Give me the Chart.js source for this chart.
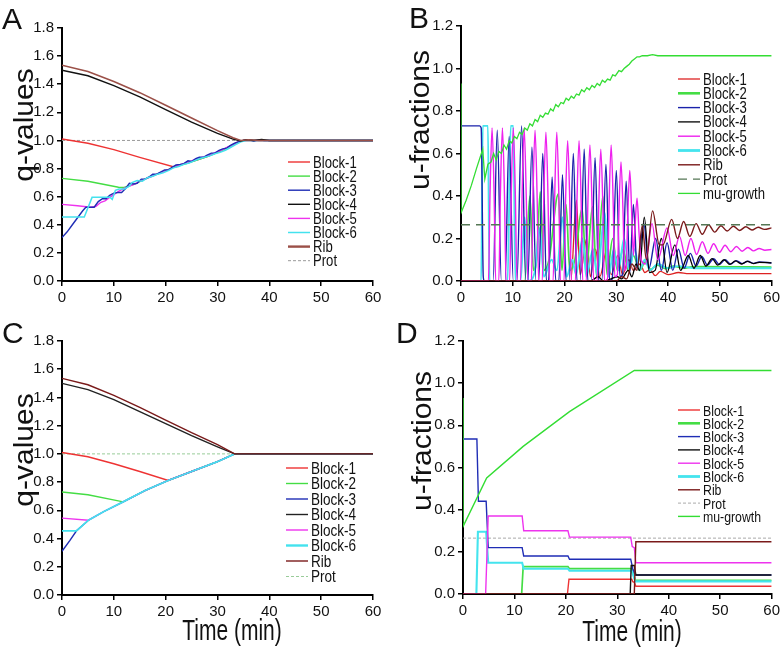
<!DOCTYPE html>
<html><head><meta charset="utf-8">
<script src="https://cdn.jsdelivr.net/npm/chart.js@4.4.0/dist/chart.umd.min.js"></script>
<style>
html,body{margin:0;padding:0;background:#fff;width:783px;height:650px;overflow:hidden}
canvas{position:absolute}
</style></head><body>
<canvas id="cA" width="391" height="320" style="left:0px;top:0px"></canvas>
<canvas id="cB" width="392" height="320" style="left:391px;top:0px"></canvas>
<canvas id="cC" width="391" height="330" style="left:0px;top:320px"></canvas>
<canvas id="cD" width="392" height="330" style="left:391px;top:320px"></canvas>
<script>
// ---------------- DATA ----------------
const xTicks = [0, 10, 20, 30, 40, 50, 60];
const qTicks = [0.0, 0.2, 0.4, 0.6, 0.8, 1.0, 1.2, 1.4, 1.6, 1.8];
const uTicks = [0.0, 0.2, 0.4, 0.6, 0.8, 1.0, 1.2];
const seriesLabels = ["Block-1","Block-2","Block-3","Block-4","Block-5","Block-6","Rib","Prot","mu-growth"];

// Panel A: q-values (time, value)
const A_block1 = [[0,1.01],[5,0.98],[10,0.935],[15,0.88],[21.8,0.81],[22.5,0.82],[24,0.84],[26,0.86],[28,0.885],[30,0.915],[32,0.95],[34,0.99],[35,1.0],[60,1.0]];
const A_block2 = [[0,0.73],[5,0.71],[10.9,0.667],[12,0.665],[14,0.69],[16,0.725],[18,0.755],[20,0.785],[22,0.815],[24,0.835],[26,0.86],[28,0.885],[30,0.915],[32,0.95],[34,0.99],[35,1.0],[60,1.0]];
const A_block3 = [[0,0.31],[1,0.35],[2,0.40],[3,0.45],[4,0.50],[4.6,0.525],[6.2,0.525],[7.0,0.565],[7.8,0.585],[8.5,0.585],[9.2,0.61],[10.0,0.625],[10.8,0.63],[11.5,0.63],[12.3,0.66],[13.0,0.695],[13.8,0.69],[14.5,0.695],[15.3,0.725],[16.0,0.725],[16.8,0.74],[17.5,0.76],[18.3,0.76],[19.0,0.775],[19.8,0.79],[20.5,0.79],[21.3,0.81],[22.0,0.825],[22.8,0.83],[23.5,0.835],[24.3,0.855],[25.0,0.85],[25.8,0.87],[26.5,0.88],[27.3,0.88],[28.0,0.895],[28.8,0.91],[29.5,0.91],[30.3,0.93],[31.0,0.94],[31.8,0.945],[32.5,0.965],[33.3,0.98],[34.0,0.99],[35.0,1.0],[36,1.005],[37,0.995],[38,1.005],[39,1.0],[60,1.0]];
const A_block4 = [[0,1.50],[5,1.46],[10,1.39],[15,1.31],[20,1.22],[25,1.13],[30,1.05],[33,1.01],[34,1.0],[34.5,0.995],[35.5,1.005],[37,1.0],[38.5,1.007],[40,1.0],[42,1.0],[60,1.0]];
const A_block5 = [[0,0.545],[3,0.535],[5.5,0.525],[6.5,0.53],[7.5,0.56],[8.3,0.57],[9,0.59],[10,0.615],[11,0.64],[12,0.66],[13,0.675],[14,0.69],[15,0.71],[16,0.725],[17,0.74],[18,0.755],[19,0.77],[20,0.785],[21,0.80],[22,0.82],[23,0.83],[24,0.84],[25,0.855],[26,0.87],[27,0.88],[28,0.89],[29,0.905],[30,0.92],[31,0.935],[32,0.955],[33,0.97],[34,0.99],[35,1.0],[60,1.0]];
const A_block6 = [[0,0.455],[4.3,0.455],[5.8,0.595],[9.3,0.595],[9.7,0.58],[10.3,0.645],[11,0.655],[12,0.655],[13,0.675],[13.5,0.70],[14.5,0.715],[15.5,0.71],[16.5,0.735],[17.5,0.745],[18.5,0.76],[19.5,0.77],[20.5,0.785],[21.5,0.805],[22.5,0.815],[23.5,0.83],[24.5,0.84],[25.5,0.855],[26.5,0.87],[27.5,0.88],[28.5,0.89],[29.5,0.905],[30.5,0.915],[31.5,0.93],[32.5,0.95],[33.5,0.97],[34.5,0.99],[35.5,1.0],[60,1.0]];
const A_rib    = [[0,1.535],[5,1.49],[10,1.42],[15,1.34],[20,1.25],[25,1.16],[30,1.07],[33,1.02],[34.5,1.0],[36,1.005],[38,1.0],[40,1.0],[60,1.0]];
const A_prot   = [[0,1.0],[60,1.0]];

// Panel B: u-fractions
const B_block1 = [[0,0],[21.2,0],[22.3,0.38],[23.0,0.03],[24.3,0.2],[25.0,0.02],[26.0,0.15],[26.8,0.02],[28.2,0.15],[29.0,0.03],[30.3,0.12],[31.2,0.03],[32.4,0.1],[33.3,0.05],[34.6,0.08],[35.5,0.04],[36.5,0.055],[37.5,0.025],[38.5,0.045],[40,0.03],[42,0.04],[44,0.035],[60,0.035]];
const B_block2 = [[0,0],[12.3,0],[13.3,0.4],[14.0,0.05],[14.6,0.1],[15.3,0.42],[16.0,0.05],[17.0,0.1],[18.8,0.41],[19.5,0.05],[20.3,0.36],[21.0,0.05],[22.0,0.1],[23.4,0.34],[24.2,0.05],[25.4,0.35],[26.2,0.02],[27.4,0.4],[28.2,0.03],[29.3,0.2],[30.2,0.05],[31.3,0.15],[32.3,0.05],[33.3,0.12],[34.5,0.05],[35.6,0.09],[36.6,0.055],[38,0.075],[39.5,0.058],[41,0.07],[43,0.06],[45,0.068],[60,0.065]];
const B_block3 = [[0,0.73],[3.6,0.73],[3.9,0.72],[4.3,0.02],[4.5,0],[6.2,0],[7.0,0.71],[7.8,0],[8.5,0],[9.3,0.68],[10.1,0],[10.8,0],[11.7,0.73],[12.5,0],[12.9,0],[13.7,0.63],[14.5,0],[15.0,0],[15.8,0.6],[16.5,0],[16.9,0],[17.6,0.49],[18.3,0],[18.9,0],[19.6,0.5],[20.3,0],[20.9,0],[21.7,0.6],[22.4,0],[23.0,0],[23.8,0.62],[24.5,0],[25.1,0],[25.9,0.58],[26.6,0],[27.2,0],[28.0,0.55],[28.7,0],[29.2,0.01],[30.0,0.52],[30.7,0.02],[31.2,0.03],[31.9,0.47],[32.6,0.04],[33.3,0.36],[34.0,0.06],[35.3,0.27],[36.3,0.06],[37.6,0.2],[38.7,0.05],[39.8,0.18],[40.9,0.05],[42.0,0.15],[43.1,0.06],[44.3,0.13],[45.4,0.07],[46.5,0.115],[47.6,0.075],[48.8,0.105],[49.9,0.078],[51.0,0.1],[52.1,0.08],[53.2,0.096],[54.3,0.082],[55.4,0.093],[56.5,0.083],[57.6,0.09],[60,0.085]];
const B_block4 = [[0,0],[25,0],[26.5,0.02],[27.5,0],[29,0.01],[30.2,0.02],[31,0.01],[32.3,0.05],[33,0.02],[33.8,0.08],[34.5,0.05],[35.4,0.3],[36.4,0.04],[37.5,0.05],[38.7,0.2],[39.8,0.04],[41.3,0.17],[42.4,0.05],[43.9,0.12],[45.0,0.06],[46.2,0.12],[47.3,0.07],[48.5,0.105],[49.6,0.075],[50.8,0.1],[51.9,0.078],[53.0,0.095],[54.2,0.08],[55.3,0.092],[56.5,0.082],[57.6,0.088],[60,0.085]];
const B_block5 = [[0,0],[5.3,0],[5.6,0.4],[6.0,0.72],[6.4,0.4],[6.7,0],[7.3,0],[7.6,0.4],[8.0,0.72],[8.4,0.4],[8.7,0],[9.4,0],[9.7,0.4],[10.1,0.72],[10.5,0.4],[10.8,0],[11.5,0],[11.8,0.4],[12.2,0.72],[12.6,0.4],[12.9,0],[13.6,0],[13.9,0.4],[14.3,0.71],[14.7,0.4],[15.0,0],[15.7,0],[16.0,0.4],[16.4,0.70],[16.8,0.4],[17.1,0],[17.8,0],[18.1,0.4],[18.5,0.70],[18.9,0.4],[19.2,0],[19.9,0],[20.2,0.38],[20.6,0.66],[21.0,0.38],[21.3,0],[22.1,0],[22.4,0.38],[22.8,0.66],[23.2,0.38],[23.5,0],[24.2,0],[24.5,0.36],[24.9,0.64],[25.3,0.36],[25.6,0],[26.3,0],[26.6,0.35],[27.0,0.62],[27.4,0.35],[27.7,0],[28.3,0.01],[28.6,0.36],[29.0,0.64],[29.4,0.36],[29.7,0.02],[30.2,0.03],[30.5,0.32],[30.9,0.56],[31.3,0.32],[31.6,0.05],[31.9,0.06],[32.2,0.3],[32.6,0.52],[33.0,0.3],[33.3,0.12],[33.6,0.25],[34.0,0.39],[34.4,0.22],[34.8,0.1],[35.6,0.08],[36.9,0.27],[38.0,0.1],[39.8,0.25],[41.0,0.12],[42.2,0.21],[43.3,0.12],[44.4,0.2],[45.5,0.125],[46.6,0.185],[47.7,0.13],[48.8,0.175],[49.9,0.135],[51.0,0.168],[52.1,0.138],[53.2,0.162],[54.3,0.14],[55.4,0.158],[56.5,0.142],[57.6,0.153],[58.7,0.145],[60,0.148]];
const B_block6 = [[0,0],[3.9,0],[4.2,0.73],[5.2,0.73],[5.5,0],[9.0,0],[9.6,0.73],[10.1,0.73],[10.5,0],[11.5,0],[12.3,0.3],[13.0,0],[14.3,0.05],[15.2,0.25],[16.0,0.02],[17.5,0.1],[18.5,0.05],[19.6,0.3],[20.4,0.02],[21.5,0.1],[22.2,0.03],[23.5,0.2],[24.2,0.02],[25.5,0.15],[26.3,0.03],[27.8,0.32],[28.5,0.02],[29.5,0.15],[30.4,0.05],[31.5,0.2],[32.5,0.05],[33.5,0.15],[34.5,0.05],[35.5,0.1],[36.5,0.05],[38,0.08],[40,0.06],[42,0.07],[45,0.06],[60,0.06]];
const B_rib    = [[0,0],[30,0],[31,0.02],[32,0.01],[33,0.08],[34,0.05],[35,0.26],[35.8,0.1],[37.0,0.33],[38.3,0.17],[39.0,0.17],[40.7,0.29],[41.8,0.2],[43.0,0.28],[44.2,0.21],[45.4,0.27],[46.6,0.22],[47.8,0.265],[49.0,0.23],[50.2,0.26],[51.4,0.235],[52.6,0.258],[53.8,0.238],[55.0,0.255],[56.2,0.24],[57.4,0.253],[58.6,0.243],[60,0.25]];
const B_prot   = [[0,0.265],[60,0.265]];
const B_mu     = [[0,0.93],[0,0.32],[1,0.38],[2,0.45],[3,0.53],[4.2,0.62],[4.6,0.48],[5.2,0.55],[5.8,0.56],[6.3,0.6],[6.8,0.57],[7.3,0.61],[7.8,0.6],[8.3,0.64],[8.8,0.62],[9.3,0.66],[9.8,0.65],[10.3,0.68],[10.8,0.67],[11.3,0.7],[11.8,0.69],[12.3,0.72],[12.8,0.71],[13.3,0.74],[13.8,0.73],[14.3,0.76],[14.8,0.75],[15.3,0.78],[15.8,0.77],[16.3,0.79],[16.8,0.785],[17.3,0.81],[17.8,0.8],[18.3,0.83],[18.8,0.82],[19.3,0.84],[19.8,0.835],[20.3,0.86],[20.8,0.85],[21.3,0.87],[21.8,0.86],[22.3,0.88],[22.8,0.875],[23.3,0.9],[23.8,0.89],[24.3,0.91],[24.8,0.9],[25.3,0.92],[25.8,0.91],[26.3,0.93],[26.8,0.92],[27.3,0.945],[27.8,0.935],[28.3,0.95],[28.8,0.945],[29.3,0.97],[29.8,0.965],[30.5,0.99],[31,0.985],[31.5,1.0],[32,1.01],[32.5,1.02],[33,1.035],[33.5,1.045],[34,1.055],[34.5,1.055],[35,1.06],[36,1.06],[37,1.065],[38,1.06],[40,1.06],[60,1.06]];

// Panel C: q-values
const C_block1 = [[0,1.01],[5,0.98],[10,0.93],[15,0.875],[20.5,0.812],[25,0.875],[30,0.945],[33.3,1.0],[60,1.0]];
const C_block2 = [[0,0.73],[5,0.71],[11.8,0.66],[16,0.74],[20.5,0.812],[25,0.875],[30,0.945],[33.3,1.0],[60,1.0]];
const C_block3 = [[0,0.31],[1.5,0.385],[2.8,0.455],[5.1,0.53],[8,0.59],[11.8,0.66],[16,0.74],[20.5,0.812],[25,0.875],[30,0.945],[33.3,1.0],[60,1.0]];
const C_block4 = [[0,1.50],[5,1.455],[10,1.385],[15,1.30],[20,1.215],[25,1.13],[30,1.05],[33.3,1.0],[60,1.0]];
const C_block5 = [[0,0.545],[5.1,0.53],[8,0.59],[11.8,0.66],[16,0.74],[20.5,0.812],[25,0.875],[30,0.945],[33.3,1.0],[60,1.0]];
const C_block6 = [[0,0.455],[2.8,0.455],[5.1,0.53],[8,0.59],[11.8,0.66],[16,0.74],[20.5,0.812],[25,0.875],[30,0.945],[33.3,1.0],[60,1.0]];
const C_rib    = [[0,1.535],[5,1.49],[10,1.415],[15,1.33],[20,1.24],[25,1.15],[30,1.065],[33.3,1.0],[60,1.0]];
const C_prot   = [[0,1.0],[60,1.0]];

// Panel D: u-fractions
const D_block1 = [[0,0],[20.3,0],[20.6,0.07],[32.8,0.07],[33.0,0.058],[33.3,0.055],[33.6,0.037],[60,0.037]];
const D_block2 = [[0,0],[11.4,0],[11.7,0.13],[20.4,0.13],[20.7,0.12],[32.8,0.12],[33.5,0.065],[60,0.065]];
const D_block3 = [[0,0.735],[2.7,0.735],[3.0,0.44],[4.5,0.44],[4.9,0.22],[11.5,0.22],[11.8,0.18],[20.4,0.18],[20.7,0.165],[32.6,0.165],[33.0,0.12],[33.5,0.09],[60,0.09]];
const D_block4 = [[0,0],[32.5,0],[32.7,0.135],[33.3,0.135],[33.6,0.09],[60,0.09]];
const D_block5 = [[0,0],[4.4,0],[4.9,0.37],[11.5,0.37],[11.8,0.30],[20.4,0.30],[20.7,0.27],[32.6,0.27],[32.9,0.225],[33.3,0.22],[33.6,0.148],[60,0.148]];
const D_block6 = [[0,0],[2.6,0],[2.9,0.295],[4.5,0.295],[4.9,0.148],[11.5,0.148],[11.8,0.12],[20.4,0.12],[20.7,0.11],[32.8,0.11],[33.5,0.06],[60,0.06]];
const D_rib    = [[0,0],[33.3,0],[33.6,0.248],[60,0.248]];
const D_prot   = [[0,0.265],[60,0.265]];
const D_mu     = [[0,0.93],[0,0.32],[4.6,0.55],[11.7,0.70],[20.7,0.865],[33.3,1.06],[60,1.06]];

// ---------------- RENDERING ----------------
const TICK_FONT = "'Liberation Sans Narrow','Liberation Sans',Arial,sans-serif";
const TEXT_FONT = "'Liberation Sans',Arial,sans-serif";

function ds(label, pts, color, width, extra) {
  return Object.assign({
    label, data: pts.map(p => ({x: p[0], y: p[1]})),
    borderColor: color, backgroundColor: color, borderWidth: width,
    pointRadius: 0, pointHoverRadius: 0, fill: false, tension: 0, legendWidth: width
  }, extra || {});
}

function sText(ctx, text, x, y, size, sx, align, baseline) {
  ctx.save();
  ctx.font = size + "px " + TEXT_FONT;
  ctx.fillStyle = "#111";
  ctx.translate(x, y);
  ctx.scale(sx, 1);
  ctx.textAlign = align; ctx.textBaseline = baseline || "alphabetic";
  ctx.fillText(text, 0, 0);
  ctx.restore();
}

function overlay(o) {
  return {
    id: "overlay",
    afterDraw(chart) {
      const ctx = chart.ctx;
      sText(ctx, o.letter, o.lx, o.ly, 30, 1.0, "left");
      ctx.save();
      ctx.font = "30px " + TEXT_FONT; ctx.fillStyle = "#111";
      ctx.translate(o.tx, o.ty); ctx.scale(0.9, 1); ctx.rotate(-Math.PI / 2);
      ctx.textAlign = "center"; ctx.textBaseline = "middle";
      ctx.fillText(o.ytitle, 0, 0);
      ctx.restore();
      if (o.xtitle) sText(ctx, o.xtitle, o.xx, o.xy, 30, 0.7, "center");
      chart.data.datasets.forEach((d, i) => {
        const y = o.legY + i * o.legDy;
        ctx.save();
        ctx.strokeStyle = d.borderColor; ctx.lineWidth = d.legendWidth;
        ctx.setLineDash(d.borderDash || []);
        ctx.beginPath(); ctx.moveTo(o.legX1, y); ctx.lineTo(o.legX2, y); ctx.stroke();
        ctx.restore();
        sText(ctx, d.label, o.legX2 + 3, y + 5.5, o.legFont, 0.82, "left");
      });
    }
  };
}

function opts(yMax, yWidth, xHeight, padTop, padRight) {
  const tickFont = {family: TICK_FONT, size: 15};
  return {
    responsive: false, animation: false, events: [],
    layout: {padding: {left: 0, top: padTop, right: padRight, bottom: 0}},
    plugins: {legend: {display: false}, tooltip: {enabled: false}},
    scales: {
      x: {
        type: "linear", min: 0, max: 60,
        afterBuildTicks: s => { s.ticks = xTicks.map(v => ({value: v})); },
        ticks: {color: "#111", font: tickFont, padding: 3, maxRotation: 0, callback: v => String(v)},
        grid: {drawOnChartArea: false, drawTicks: true, tickLength: 5, color: "#000", lineWidth: 1.5},
        border: {display: true, color: "#000", width: 2},
        afterFit: s => { s.height = xHeight; }
      },
      y: {
        type: "linear", min: 0, max: yMax,
        afterBuildTicks: s => { s.ticks = (yMax > 1.5 ? qTicks : uTicks).map(v => ({value: v})); },
        ticks: {color: "#111", font: tickFont, padding: 3, callback: v => Number(v).toFixed(1)},
        grid: {drawOnChartArea: false, drawTicks: true, tickLength: 5, color: "#000", lineWidth: 1.5},
        border: {display: true, color: "#000", width: 2},
        afterFit: s => { s.width = yWidth; }
      }
    }
  };
}

// Panel A
new Chart(document.getElementById("cA"), {
  type: "line",
  data: {datasets: [
    ds(seriesLabels[0], A_block1, "#ee3333", 1.4, {order: 6}),
    ds(seriesLabels[1], A_block2, "#44dd44", 1.4, {order: 5}),
    ds(seriesLabels[2], A_block3, "#1f2db5", 1.4, {order: 3}),
    ds(seriesLabels[3], A_block4, "#111111", 1.4, {order: 1}),
    ds(seriesLabels[4], A_block5, "#ee33ee", 1.4, {order: 4}),
    ds(seriesLabels[5], A_block6, "#44e2ee", 1.5, {order: 2}),
    ds(seriesLabels[6], A_rib, "#9b5048", 1.6, {order: 0, legendWidth: 2.4}),
    ds(seriesLabels[7], A_prot, "#999999", 1, {order: 7, borderDash: [3, 2]})
  ]},
  options: opts(1.8, 62, 39, 28, 18),
  plugins: [overlay({letter: "A", lx: 2, ly: 29, ytitle: "q-values", tx: 26, ty: 125, legX1: 288, legX2: 310, legY: 162, legDy: 14.1, legFont: 16})]
});

// Panel B
new Chart(document.getElementById("cB"), {
  type: "line",
  data: {datasets: [
    ds(seriesLabels[0], B_block1, "#dd2222", 1.3, {order: 6, cubicInterpolationMode: "monotone"}),
    ds(seriesLabels[1], B_block2, "#44dd44", 1.7, {order: 5, cubicInterpolationMode: "monotone", legendWidth: 2.6}),
    ds(seriesLabels[2], B_block3, "#1a22aa", 1.4, {order: 3, cubicInterpolationMode: "monotone"}),
    ds(seriesLabels[3], B_block4, "#000000", 1.3, {order: 2, cubicInterpolationMode: "monotone"}),
    ds(seriesLabels[4], B_block5, "#ee22ee", 1.4, {order: 1, cubicInterpolationMode: "monotone"}),
    ds(seriesLabels[5], B_block6, "#44e4ee", 1.9, {order: 4, cubicInterpolationMode: "monotone", legendWidth: 2.8}),
    ds(seriesLabels[6], B_rib, "#7a1a1a", 1.4, {order: 0.5, cubicInterpolationMode: "monotone"}),
    ds(seriesLabels[7], B_prot, "#557755", 1.4, {order: -2, borderDash: [9, 6]}),
    ds(seriesLabels[8], B_mu, "#33dd33", 1.3, {order: -1})
  ]},
  options: opts(1.2, 70, 39, 26, 11),
  plugins: [overlay({letter: "B", lx: 18, ly: 28, ytitle: "u-fractions", tx: 31, ty: 120, legX1: 287, legX2: 309, legY: 79, legDy: 14.3, legFont: 16})]
});

// Panel C
new Chart(document.getElementById("cC"), {
  type: "line",
  data: {datasets: [
    ds(seriesLabels[0], C_block1, "#ee3333", 1.4, {order: 6}),
    ds(seriesLabels[1], C_block2, "#44dd44", 1.4, {order: 5}),
    ds(seriesLabels[2], C_block3, "#1f2db5", 1.4, {order: 4}),
    ds(seriesLabels[3], C_block4, "#222222", 1.4, {order: 1}),
    ds(seriesLabels[4], C_block5, "#ee33ee", 1.4, {order: 3}),
    ds(seriesLabels[5], C_block6, "#44e2ee", 1.7, {order: 2, legendWidth: 2.4}),
    ds(seriesLabels[6], C_rib, "#7a1a1a", 1.4, {order: 0}),
    ds(seriesLabels[7], C_prot, "#99cc99", 1, {order: 7, borderDash: [3, 2]})
  ]},
  options: opts(1.8, 62, 55, 21, 18),
  plugins: [overlay({letter: "C", lx: 2, ly: 23, ytitle: "q-values", tx: 26, ty: 130, xtitle: "Time (min)", xx: 232, xy: 320, legX1: 286, legX2: 308, legY: 148, legDy: 15.5, legFont: 16.5})]
});

// Panel D
new Chart(document.getElementById("cD"), {
  type: "line",
  data: {datasets: [
    ds(seriesLabels[0], D_block1, "#ee3333", 1.4, {order: 6}),
    ds(seriesLabels[1], D_block2, "#44dd44", 1.7, {order: 5, legendWidth: 2.6}),
    ds(seriesLabels[2], D_block3, "#1f2db5", 1.4, {order: 3}),
    ds(seriesLabels[3], D_block4, "#111111", 1.4, {order: 2}),
    ds(seriesLabels[4], D_block5, "#ee33ee", 1.4, {order: 1}),
    ds(seriesLabels[5], D_block6, "#44e4ee", 2.1, {order: 4, legendWidth: 2.8}),
    ds(seriesLabels[6], D_rib, "#7a1a1a", 1.4, {order: 0}),
    ds(seriesLabels[7], D_prot, "#aaaaaa", 1, {order: 7, borderDash: [3, 2]}),
    ds(seriesLabels[8], D_mu, "#33dd33", 1.4, {order: -1})
  ]},
  options: opts(1.2, 72, 56, 21, 10),
  plugins: [overlay({letter: "D", lx: 5, ly: 23, ytitle: "u-fractions", tx: 33, ty: 121, xtitle: "Time (min)", xx: 241, xy: 321, legX1: 287, legX2: 309, legY: 90, legDy: 13.3, legFont: 15})]
});
</script>
</body></html>
